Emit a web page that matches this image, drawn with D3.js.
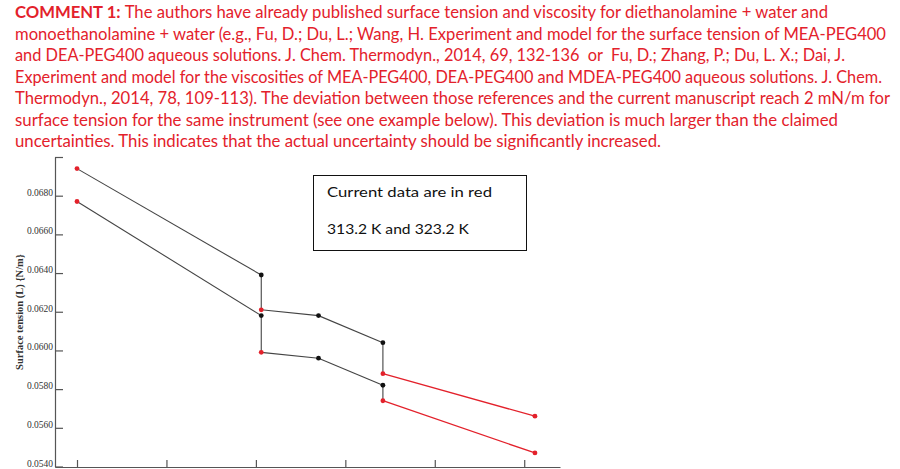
<!DOCTYPE html>
<html><head><meta charset="utf-8">
<script src="https://cdn.jsdelivr.net/npm/d3@7"></script>
<style>
html,body{margin:0;padding:0;background:#fff;}
svg{display:block;}
</style></head>
<body>
<svg id="chart" width="900" height="469"></svg>
<script>
// ---- data ----
const commentLines = [
  "The authors have already published surface tension and viscosity for diethanolamine + water and",
  "monoethanolamine + water (e.g., Fu, D.; Du, L.; Wang, H. Experiment and model for the surface tension of MEA-PEG400",
  "and DEA-PEG400 aqueous solutions. J. Chem. Thermodyn., 2014, 69, 132-136  or  Fu, D.; Zhang, P.; Du, L. X.; Dai, J.",
  "Experiment and model for the viscosities of MEA-PEG400, DEA-PEG400 and MDEA-PEG400 aqueous solutions. J. Chem.",
  "Thermodyn., 2014, 78, 109-113). The deviation between those references and the current manuscript reach 2 mN/m for",
  "surface tension for the same instrument (see one example below). This deviation is much larger than the claimed",
  "uncertainties. This indicates that the actual uncertainty should be significantly increased."
];
const commentLead = "COMMENT 1: ";
const legendLines = ["Current data are in red", "313.2 K and 323.2 K"];
const yLabel = "Surface tension (L) {N/m}";
const yTicks = [0.054, 0.056, 0.058, 0.060, 0.062, 0.064, 0.066, 0.068, 0.070];
const xTicks = [0, 1, 2, 3, 4, 5];

// polylines: x position (axis units), surface tension, source (R = current data, B = published)
const upperX = [0, 2.06, 2.06, 2.70, 3.42, 3.42, 5.12];
const upperY = [0.0694, 0.0639, 0.0621, 0.0618, 0.0604, 0.0588, 0.0566];
const upperSrc = ["R", "B", "R", "B", "B", "R", "R"];
const lowerX = [0, 2.06, 2.06, 2.70, 3.42, 3.42, 5.12];
const lowerY = [0.0677, 0.0618, 0.0599, 0.0596, 0.0582, 0.0574, 0.0547];
const lowerSrc = ["R", "B", "R", "B", "B", "R", "R"];

// ---- drawing ----
const svg = d3.select("#chart");
const RED = "#e3212b";
const BLACK = "#111";

// comment text
const lineEnds = [828, 886, 845, 882, 890, 838, 661];
const tg = svg.append("g").attr("font-family", "Lato, 'Open Sans', sans-serif")
  .attr("font-size", 16.3).attr("fill", RED);
commentLines.forEach((t, i) => {
  const txt = tg.append("text").attr("x", 15).attr("y", 18 + i * 21.5)
    .style("white-space", "pre")
    .attr("textLength", lineEnds[i] - 15).attr("lengthAdjust", "spacingAndGlyphs");
  if (i === 0) {
    txt.append("tspan").attr("font-weight", "bold").text(commentLead);
  }
  txt.append("tspan").text(t);
});

// scales
const x = d3.scaleLinear().domain([-0.246, 5.40]).range([55, 560]);
const y = d3.scaleLinear().domain([0.054, 0.070]).range([466.5, 157]);

// axes
const yAxis = d3.axisLeft(y).tickValues(yTicks)
  .tickFormat(d => Math.abs(d - 0.070) < 1e-9 ? "" : d3.format(".4f")(d))
  .tickSizeInner(-8).tickSizeOuter(0).tickPadding(2);
const gy = svg.append("g").attr("transform", "translate(55,0)").call(yAxis);
gy.selectAll("path,line").attr("stroke", "#555").attr("stroke-width", 1.2);
gy.selectAll("text").attr("font-family", "'Liberation Serif', serif").attr("font-size", 9.5)
  .attr("fill", "#333").attr("dy", "-0.05em");

const xAxis = d3.axisBottom(x).tickValues(xTicks).tickFormat("")
  .tickSizeInner(-7).tickSizeOuter(0);
const gx = svg.append("g").attr("transform", "translate(0,467)").call(xAxis);
gx.selectAll("path,line").attr("stroke", "#555").attr("stroke-width", 1.2);

// y label
svg.append("text").attr("transform", "translate(23,312) rotate(-90)")
  .attr("text-anchor", "middle").attr("font-family", "'Liberation Serif', serif")
  .attr("font-weight", "bold").attr("font-size", 10.5).attr("fill", "#333").text(yLabel);

// lines and points
function drawSeries(xs, ys, src) {
  const pts = xs.map((v, i) => ({ x: v, y: ys[i], s: src[i] }));
  const segs = d3.pairs(pts);
  svg.append("g").selectAll("line").data(segs).join("line")
    .attr("x1", d => x(d[0].x)).attr("y1", d => y(d[0].y))
    .attr("x2", d => x(d[1].x)).attr("y2", d => y(d[1].y))
    .attr("stroke", d => (d[0].s === "R" && d[1].s === "R") ? RED : "#444")
    .attr("stroke-width", d => (d[0].s === "R" && d[1].s === "R") ? 1.3 : 1.1);
  svg.append("g").selectAll("circle").data(pts).join("circle")
    .attr("cx", d => x(d.x)).attr("cy", d => y(d.y)).attr("r", 2.4)
    .attr("fill", d => d.s === "R" ? RED : BLACK);
}
drawSeries(upperX, upperY, upperSrc);
drawSeries(lowerX, lowerY, lowerSrc);

// legend box
svg.append("rect").attr("x", 313.5).attr("y", 175.5).attr("width", 213).attr("height", 75)
  .attr("fill", "#fff").attr("stroke", "#111").attr("stroke-width", 1);
const legEnds = [492, 469];
legendLines.forEach((t, i) => {
  svg.append("text").attr("x", 327).attr("y", 197 + i * 37)
    .attr("font-family", "Lato, 'Open Sans', sans-serif").attr("font-size", 13.2).attr("fill", "#111")
    .attr("textLength", legEnds[i] - 327).attr("lengthAdjust", "spacingAndGlyphs").text(t);
});
</script>
</body></html>
